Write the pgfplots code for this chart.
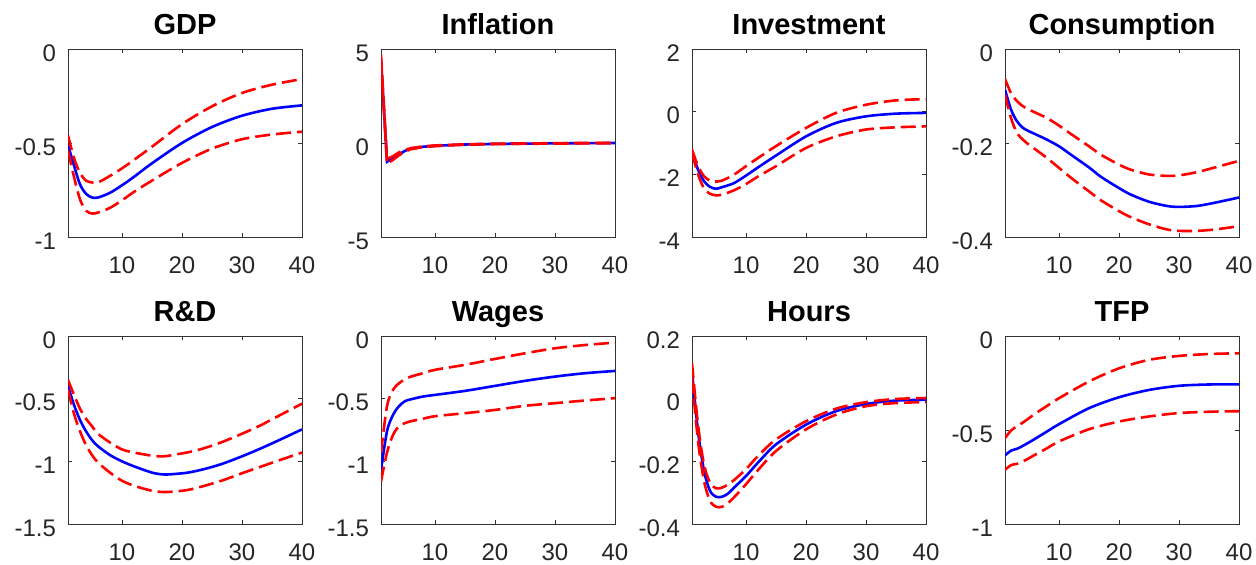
\documentclass[border=0pt]{standalone}
\usepackage{pgfplots}
\usepackage{pgfplotstable}
\pgfplotsset{compat=1.18}
\usepackage{fontspec}
\setmainfont{Liberation Sans}

\pgfplotstableread{
x m hi lo
1 -0.51 -0.46 -0.54
2 -0.62 -0.58 -0.68
3 -0.72 -0.66 -0.80
4 -0.77 -0.70 -0.86
5 -0.79 -0.71 -0.875
6 -0.79 -0.71 -0.87
8 -0.765 -0.675 -0.845
10 -0.725 -0.635 -0.805
12 -0.68 -0.59 -0.76
15 -0.608 -0.52 -0.70
20 -0.50 -0.40 -0.606
25 -0.415 -0.305 -0.53
30 -0.355 -0.234 -0.48
35 -0.318 -0.19 -0.455
40 -0.30 -0.16 -0.44
}\tGDP

\pgfplotstableread{
x m hi lo
1 4.5 4.7 4.3
2 -1.0 -0.85 -1.1
3 -0.8 -0.7 -0.9
4 -0.6 -0.5 -0.65
5 -0.42 -0.38 -0.46
6 -0.3 -0.27 -0.33
8 -0.2 -0.18 -0.22
10 -0.15 -0.13 -0.17
15 -0.08 -0.07 -0.09
20 -0.05 -0.04 -0.06
30 -0.02 -0.01 -0.03
40 0 0.01 -0.01
}\tINF

\pgfplotstableread{
x m hi lo
1 -1.27 -1.21 -1.32
2 -1.85 -1.74 -2.0
3 -2.22 -2.06 -2.45
4 -2.40 -2.20 -2.62
5 -2.46 -2.23 -2.67
6 -2.41 -2.20 -2.65
8 -2.28 -2.01 -2.51
10 -2.04 -1.74 -2.31
12 -1.78 -1.48 -2.07
15 -1.40 -1.10 -1.74
20 -0.79 -0.52 -1.16
25 -0.36 -0.04 -0.79
30 -0.15 0.22 -0.57
35 -0.064 0.36 -0.50
40 -0.04 0.40 -0.47
}\tINV

\pgfplotstableread{
x m hi lo
1 -0.0865 -0.064 -0.097
2 -0.129 -0.094 -0.147
3 -0.154 -0.111 -0.179
4 -0.168 -0.122 -0.193
5 -0.175 -0.129 -0.204
6 -0.181 -0.135 -0.213
8 -0.193 -0.147 -0.232
10 -0.207 -0.163 -0.253
12 -0.225 -0.181 -0.274
15 -0.252 -0.207 -0.303
17 -0.272 -0.225 -0.322
20 -0.296 -0.246 -0.345
22 -0.310 -0.257 -0.358
25 -0.325 -0.267 -0.373
28 -0.334 -0.270 -0.384
30 -0.336 -0.269 -0.387
33 -0.334 -0.262 -0.387
36 -0.327 -0.252 -0.384
40 -0.316 -0.238 -0.377
}\tCON

\pgfplotstableread{
x m hi lo
1 -0.40 -0.35 -0.43
2 -0.55 -0.47 -0.62
3 -0.67 -0.58 -0.76
4 -0.76 -0.66 -0.87
5 -0.83 -0.72 -0.95
6 -0.88 -0.78 -1.01
8 -0.95 -0.85 -1.09
10 -1.00 -0.905 -1.155
12 -1.04 -0.93 -1.195
15 -1.09 -0.955 -1.235
17 -1.105 -0.96 -1.245
19 -1.10 -0.945 -1.24
21 -1.09 -0.928 -1.228
23 -1.07 -0.905 -1.205
25 -1.045 -0.875 -1.178
27 -1.015 -0.84 -1.148
30 -0.96 -0.78 -1.095
33 -0.90 -0.715 -1.045
36 -0.835 -0.64 -0.995
40 -0.745 -0.54 -0.93
}\tRD

\pgfplotstableread{
x m hi lo
1 -1.07 -0.93 -1.16
2 -0.76 -0.56 -0.93
3 -0.63 -0.43 -0.79
4 -0.56 -0.377 -0.72
5 -0.52 -0.345 -0.695
6 -0.505 -0.324 -0.68
8 -0.483 -0.297 -0.66
10 -0.47 -0.27 -0.64
15 -0.438 -0.23 -0.616
20 -0.398 -0.183 -0.59
25 -0.358 -0.138 -0.557
30 -0.324 -0.098 -0.536
35 -0.297 -0.072 -0.515
40 -0.279 -0.053 -0.496
}\tWAG

\pgfplotstableread{
x m hi lo
1 0.087 0.113 0.066
2 -0.104 -0.083 -0.135
3 -0.23 -0.21 -0.262
4 -0.294 -0.268 -0.326
5 -0.313 -0.286 -0.345
6 -0.313 -0.284 -0.345
7 -0.303 -0.274 -0.333
8 -0.284 -0.26 -0.315
10 -0.247 -0.225 -0.273
12 -0.204 -0.183 -0.228
15 -0.146 -0.130 -0.167
20 -0.083 -0.072 -0.098
25 -0.040 -0.032 -0.051
30 -0.017 -0.011 -0.024
35 -0.006 -0.001 -0.014
40 -0.004 0.002 -0.011
}\tHRS

\pgfplotstableread{
x m hi lo
1 -0.635 -0.543 -0.712
2 -0.61 -0.503 -0.687
3 -0.60 -0.48 -0.68
4 -0.584 -0.46 -0.667
5 -0.566 -0.437 -0.65
6 -0.547 -0.414 -0.632
8 -0.508 -0.372 -0.597
10 -0.469 -0.331 -0.561
15 -0.384 -0.242 -0.496
20 -0.326 -0.172 -0.455
25 -0.287 -0.127 -0.428
30 -0.265 -0.106 -0.41
35 -0.258 -0.096 -0.403
40 -0.257 -0.092 -0.40
}\tTFP

\pgfplotsset{
  irf/.style={
    scale only axis, width=117pt, height=94pt,
    anchor=south west,
    xmin=1, xmax=40, xtick={10,20,30,40},
    tick align=inside, xtick pos=both, ytick pos=both,
    major tick length=2pt,
    axis line style={draw=black!80, line width=0.45pt},
    every tick/.style={draw=black!80, line width=0.45pt},
    /pgf/number format/assume math mode=true,
    ticklabel style={font=\fontsize{12}{13}\selectfont, text=black!85},
    xticklabel style={yshift=-6.5pt},
    yticklabel style={xshift=-2.5pt, yshift=-2pt},
    every axis title shift=0pt,
    title style={at={(0.5,1)}, anchor=base, yshift=7pt,
      font=\fontsize{14.5}{15}\selectfont\bfseries},
  },
  med/.style={draw=blue, line width=1.3pt, no marks},
  band/.style={draw=red, line width=1.3pt, no marks, dash pattern=on 7.5pt off 3pt},
}

\begin{document}
\begin{tikzpicture}
\useasboundingbox (0,0) rectangle (628pt,282.5pt);

\begin{axis}[irf, at={(34pt,164pt)}, title={GDP},
  ymin=-1, ymax=0, ytick={-1,-0.5,0}, yticklabels={-1,-0.5,0}]
\addplot[med, smooth, tension=0.5] table[x=x,y=m]{\tGDP};
\addplot[band, smooth, tension=0.5] table[x=x,y=hi]{\tGDP};
\addplot[band, smooth, tension=0.5] table[x=x,y=lo]{\tGDP};
\end{axis}

\begin{axis}[irf, at={(190.5pt,164pt)}, title={Inflation},
  ymin=-5, ymax=5, ytick={-5,0,5}, yticklabels={-5,0,5}]
\addplot[med] table[x=x,y=m]{\tINF};
\addplot[band] table[x=x,y=hi]{\tINF};
\addplot[band] table[x=x,y=lo]{\tINF};
\end{axis}

\begin{axis}[irf, at={(346pt,164pt)}, title={Investment},
  ymin=-4, ymax=2, ytick={-4,-2,0,2}, yticklabels={-4,-2,0,2}]
\addplot[med, smooth, tension=0.5] table[x=x,y=m]{\tINV};
\addplot[band, smooth, tension=0.5] table[x=x,y=hi]{\tINV};
\addplot[band, smooth, tension=0.5] table[x=x,y=lo]{\tINV};
\end{axis}

\begin{axis}[irf, at={(502.5pt,164pt)}, title={Consumption},
  ymin=-0.4, ymax=0, ytick={-0.4,-0.2,0}, yticklabels={-0.4,-0.2,0}]
\addplot[med, smooth, tension=0.5] table[x=x,y=m]{\tCON};
\addplot[band, smooth, tension=0.5] table[x=x,y=hi]{\tCON};
\addplot[band, smooth, tension=0.5] table[x=x,y=lo]{\tCON};
\end{axis}

\begin{axis}[irf, at={(34pt,20.5pt)}, title={R\&D},
  ymin=-1.5, ymax=0, ytick={-1.5,-1,-0.5,0}, yticklabels={-1.5,-1,-0.5,0}]
\addplot[med, smooth, tension=0.5] table[x=x,y=m]{\tRD};
\addplot[band, smooth, tension=0.5] table[x=x,y=hi]{\tRD};
\addplot[band, smooth, tension=0.5] table[x=x,y=lo]{\tRD};
\end{axis}

\begin{axis}[irf, at={(190.5pt,20.5pt)}, title={Wages},
  ymin=-1.5, ymax=0, ytick={-1.5,-1,-0.5,0}, yticklabels={-1.5,-1,-0.5,0}]
\addplot[med, smooth, tension=0.5] table[x=x,y=m]{\tWAG};
\addplot[band, smooth, tension=0.5] table[x=x,y=hi]{\tWAG};
\addplot[band, smooth, tension=0.5] table[x=x,y=lo]{\tWAG};
\end{axis}

\begin{axis}[irf, at={(346pt,20.5pt)}, title={Hours},
  ymin=-0.4, ymax=0.2, ytick={-0.4,-0.2,0,0.2}, yticklabels={-0.4,-0.2,0,0.2}]
\addplot[med, smooth, tension=0.5] table[x=x,y=m]{\tHRS};
\addplot[band, smooth, tension=0.5] table[x=x,y=hi]{\tHRS};
\addplot[band, smooth, tension=0.5] table[x=x,y=lo]{\tHRS};
\end{axis}

\begin{axis}[irf, at={(502.5pt,20.5pt)}, title={TFP},
  ymin=-1, ymax=0, ytick={-1,-0.5,0}, yticklabels={-1,-0.5,0}]
\addplot[med, smooth, tension=0.5] table[x=x,y=m]{\tTFP};
\addplot[band, smooth, tension=0.5] table[x=x,y=hi]{\tTFP};
\addplot[band, smooth, tension=0.5] table[x=x,y=lo]{\tTFP};
\end{axis}
\end{tikzpicture}
\end{document}
